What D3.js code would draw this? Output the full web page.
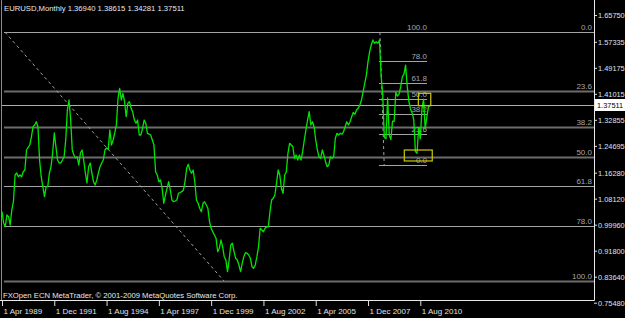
<!DOCTYPE html>
<html>
<head>
<meta charset="utf-8">
<script src="https://cdnjs.cloudflare.com/ajax/libs/d3/7.8.5/d3.min.js"></script>
<style>
  body { margin: 0; background: #000; }
  text { font-family: "Liberation Sans", Arial, sans-serif; }
</style>
</head>
<body>
<div id="chart"></div>
<script>
var svgWidth = 625;
var svgHeight = 318;

// monthly closes, first bar = Apr 1989
var startDate = new Date(1989, 3, 1);
var closes = [
  1.0403, 1.0049, 0.9932, 1.0300, 1.0246, 0.9986, 1.0457, 1.0717, 1.1555, 1.1617,
  1.1501, 1.1555, 1.1501, 1.1658, 1.1712, 1.2339, 1.2420, 1.2496, 1.2750, 1.3070,
  1.3124, 1.3227, 1.3070, 1.2025, 1.1501, 1.1188, 1.0874, 1.1188, 1.1188, 1.1617,
  1.1815, 1.2245, 1.2873, 1.2443, 1.2025, 1.1931, 1.1931, 1.2025, 1.2129, 1.2653,
  1.3594, 1.3908, 1.3300, 1.2339, 1.2182, 1.2088, 1.2129, 1.1868, 1.2245, 1.2339,
  1.2025, 1.1617, 1.1304, 1.1815, 1.1931, 1.1617, 1.1344, 1.1241, 1.1398, 1.1617,
  1.1815, 1.1931, 1.2025, 1.2339, 1.2402, 1.2360, 1.2967, 1.2496, 1.2653, 1.2873,
  1.3124, 1.3961, 1.4275, 1.3908, 1.4118, 1.3855, 1.3384, 1.3804, 1.3855, 1.3648,
  1.3530, 1.3280, 1.3177, 1.3280, 1.2810, 1.2810, 1.3020, 1.3280, 1.3177, 1.2863,
  1.2840, 1.2810, 1.2653, 1.2496, 1.1658, 1.1555, 1.1344, 1.1398, 1.1137, 1.0667,
  1.0927, 1.1137, 1.1344, 1.1084, 1.0770, 1.0717, 1.0739, 1.0770, 1.0980, 1.1005,
  1.1031, 1.1084, 1.1344, 1.1765, 1.1890, 1.1712, 1.1608, 1.1712, 1.1344, 1.0770,
  1.0667, 1.0510, 1.0403, 1.0667, 1.0717, 1.0613, 1.0510, 1.0089, 0.9882, 0.9776,
  0.9672, 0.9568, 0.9148, 0.9255, 0.9515, 0.9305, 0.8991, 0.8888, 0.8521, 0.8888,
  0.9358, 0.9412, 0.9148, 0.8941, 0.8888, 0.8731, 0.8521, 0.8784, 0.8991, 0.9117,
  0.9098, 0.9045, 0.8941, 0.8677, 0.8627, 0.8731, 0.8991, 0.9305, 0.9882, 0.9829,
  0.9776, 0.9882, 0.9923, 0.9932, 1.0403, 1.0770, 1.0824, 1.0927, 1.1294, 1.1712,
  1.1555, 1.1137, 1.0980, 1.1555, 1.1658, 1.2236, 1.2549, 1.2496, 1.2443, 1.2079,
  1.2182, 1.2025, 1.2182, 1.2025, 1.2286, 1.2653, 1.2967, 1.3280, 1.3541, 1.3124,
  1.3227, 1.3070, 1.2653, 1.2339, 1.2129, 1.2079, 1.2339, 1.2182, 1.1972, 1.1815,
  1.1868, 1.2129, 1.2079, 1.2129, 1.2706, 1.2863, 1.2810, 1.2863, 1.2832, 1.2913,
  1.3070, 1.3227, 1.3124, 1.3227, 1.3384, 1.3522, 1.3459, 1.3594, 1.3648, 1.3751,
  1.3908, 1.4168, 1.4432, 1.4692, 1.5110, 1.5423, 1.5634, 1.5791, 1.5687, 1.5737,
  1.5687, 1.5791, 1.4673, 1.4087, 1.2729, 1.2694, 1.3977, 1.2804, 1.2667, 1.3248,
  1.3237, 1.4150, 1.4032, 1.4094, 1.4325, 1.4636, 1.4720, 1.5002, 1.4335, 1.3866,
  1.3626, 1.3503, 1.3295, 1.2291, 1.2237, 1.3050, 1.2690, 1.3624, 1.3934, 1.3003,
  1.3379, 1.3692, 1.3751
];

// last bar OHLC for the header
var lastBar = [1.36940, 1.38615, 1.34281, 1.37511];

// price scale labels
var priceTicks = [1.65750, 1.57335, 1.49175, 1.41015, 1.32855, 1.24695, 1.16280,
  1.08120, 0.99960, 0.91800, 0.83640, 0.75480];

// time scale labels
var dateTicks = ["1989-04", "1991-12", "1994-08", "1997-04", "1999-12",
  "2002-08", "2005-04", "2007-12", "2010-08"];

// fibonacci levels
var fibLevels = [0, 23.6, 38.2, 50, 61.8, 78, 100];
var fibThick = [23.6, 38.2, 50, 100];

// big retracement: 0.0 price, 100.0 price, anchor months
var bigFibPrices = [1.6038, 0.8228];
var bigFibMonths = [1.8, 135.9];

// small retracement: 0.0 price, 100.0 price, anchor months, right end
var smallFibPrices = [1.1868, 1.6038];
var smallFibMonths = [233.9, 231.3];
var smallFibEnd = 260.1;

// yellow rectangles [month1, month2, price1, price2]
var boxMonths = [[254.8, 262.4], [246.2, 263.3]];
var boxPrices = [[1.4118, 1.3729], [1.2339, 1.1995]];

var plotRight = 594;
var plotBottom = 300;
var axisFont = "7.4px";

var svg = d3
  .select("#chart")
  .append("svg")
  .attr("width", svgWidth)
  .attr("height", svgHeight)
  .style("background", "#000");

// month index -> x
var x = d3.scaleLinear().domain([0, 262]).range([2, 2 + 262 * 1.634]);
var y = d3.scaleLinear().domain([0.7548, 1.6575]).range([302.7, 15]);

function monthIndex(s) {
  var p = s.split("-");
  return (+p[0] - 1989) * 12 + (+p[1] - 4);
}

// left border
svg.append("line")
  .attr("x1", 1.5).attr("x2", 1.5)
  .attr("y1", 0).attr("y2", plotBottom)
  .attr("stroke", "#8a8a8a");

// big fib levels
fibLevels.forEach(function (lv) {
  var price = bigFibPrices[0] + (bigFibPrices[1] - bigFibPrices[0]) * lv / 100;
  var thick = fibThick.indexOf(lv) >= 0;
  svg.append("line")
    .attr("x1", x(bigFibMonths[0]) - 1)
    .attr("x2", plotRight)
    .attr("y1", Math.round(y(price)) + 0.5)
    .attr("y2", Math.round(y(price)) + 0.5)
    .attr("stroke", thick ? "#6c6c6c" : "#a4a4a4")
    .attr("stroke-width", thick ? 2 : 1);
  svg.append("text")
    .attr("x", plotRight - 2)
    .attr("y", Math.round(y(price)) - 2)
    .attr("text-anchor", "end")
    .attr("fill", "#a6a6a6")
    .style("font-size", "8px")
    .text(lv.toFixed(1));
});

// big fib trend line
svg.append("line")
  .attr("x1", x(bigFibMonths[0])).attr("y1", y(bigFibPrices[0]))
  .attr("x2", x(bigFibMonths[1])).attr("y2", y(bigFibPrices[1]))
  .attr("stroke", "#a0a0a0")
  .attr("stroke-dasharray", "3,3");

// current price line
svg.append("line")
  .attr("x1", 2).attr("x2", plotRight)
  .attr("y1", Math.round(y(lastBar[3])) + 0.5)
  .attr("y2", Math.round(y(lastBar[3])) + 0.5)
  .attr("stroke", "#a8aeb8");

// small fib levels
fibLevels.forEach(function (lv) {
  var price = smallFibPrices[0] + (smallFibPrices[1] - smallFibPrices[0]) * lv / 100;
  svg.append("line")
    .attr("x1", x(smallFibMonths[1]) - 1)
    .attr("x2", x(smallFibEnd))
    .attr("y1", Math.round(y(price)) + 0.5)
    .attr("y2", Math.round(y(price)) + 0.5)
    .attr("stroke", "#a4a4a4");
  svg.append("text")
    .attr("x", x(smallFibEnd))
    .attr("y", Math.round(y(price)) - 2)
    .attr("text-anchor", "end")
    .attr("fill", "#a6a6a6")
    .style("font-size", "8px")
    .text(lv.toFixed(1));
});

svg.append("line")
  .attr("x1", x(smallFibMonths[1])).attr("y1", y(smallFibPrices[1]))
  .attr("x2", x(smallFibMonths[0])).attr("y2", y(smallFibPrices[0]))
  .attr("stroke", "#a0a0a0")
  .attr("stroke-dasharray", "3,3");

// price line
var line = d3.line()
  .x(function (d, i) { return x(i); })
  .y(function (d) { return y(d); });

svg.append("path")
  .datum(closes)
  .attr("d", line)
  .attr("fill", "none")
  .attr("stroke", "#00e600")
  .attr("stroke-width", 1.3)
  .attr("stroke-linejoin", "round");

// yellow boxes
boxMonths.forEach(function (m, i) {
  var p = boxPrices[i];
  svg.append("rect")
    .attr("x", x(m[0]))
    .attr("y", y(p[0]))
    .attr("width", x(m[1]) - x(m[0]))
    .attr("height", y(p[1]) - y(p[0]))
    .attr("fill", "none")
    .attr("stroke", "#cccc00")
    .attr("stroke-width", 1.2);
});

// price axis
var yAxis = svg.append("g")
  .attr("transform", "translate(" + plotRight + ",0)")
  .call(d3.axisRight(y).tickValues(priceTicks).tickSize(3).tickFormat(d3.format(".5f")));
yAxis.select(".domain").remove();
yAxis.selectAll("line").attr("stroke", "#e0e0e0");
yAxis.selectAll("text")
  .attr("x", 4)
  .attr("fill", "#e0e0e0")
  .style("font-size", axisFont)
  .style("font-family", "'Liberation Sans', Arial, sans-serif");

// time axis
var xAxis = svg.append("g")
  .attr("transform", "translate(0," + plotBottom + ")")
  .call(d3.axisBottom(x)
    .tickValues(dateTicks.map(monthIndex))
    .tickSize(6)
    .tickFormat(function (d) {
      return d3.timeFormat("%-d %b %Y")(d3.timeMonth.offset(startDate, d));
    }));
xAxis.select(".domain").remove();
xAxis.selectAll("line").attr("stroke", "#e0e0e0");
xAxis.selectAll("text")
  .attr("text-anchor", "start")
  .attr("x", 1)
  .attr("y", 8)
  .attr("fill", "#e0e0e0")
  .style("font-size", "8px")
  .style("font-family", "'Liberation Sans', Arial, sans-serif");

// frame
svg.append("line")
  .attr("x1", 0).attr("x2", plotRight + 0.5)
  .attr("y1", plotBottom + 0.5).attr("y2", plotBottom + 0.5)
  .attr("stroke", "#e8e8e8");
svg.append("line")
  .attr("x1", plotRight + 0.5).attr("x2", plotRight + 0.5)
  .attr("y1", 0).attr("y2", plotBottom + 0.5)
  .attr("stroke", "#e8e8e8");

// current price box
var priceY = Math.round(y(lastBar[3]));
svg.append("rect")
  .attr("x", plotRight + 1).attr("y", priceY - 6)
  .attr("width", 30).attr("height", 12)
  .attr("fill", "#ffffff");
svg.append("text")
  .attr("x", plotRight + 3)
  .attr("y", priceY + 3)
  .attr("fill", "#000")
  .style("font-size", axisFont)
  .text(lastBar[3].toFixed(5));

// header and footer
svg.append("text")
  .attr("x", 4).attr("y", 11)
  .attr("fill", "#e8e8e8")
  .style("font-size", "7.7px")
  .text("EURUSD,Monthly  " + lastBar.map(function (v) { return v.toFixed(5); }).join(" "));

svg.append("text")
  .attr("x", 3).attr("y", 298)
  .attr("fill", "#e8e8e8")
  .style("font-size", "7.7px")
  .text("FXOpen ECN MetaTrader, \u00a9 2001-2009 MetaQuotes Software Corp.");
</script>
</body>
</html>
